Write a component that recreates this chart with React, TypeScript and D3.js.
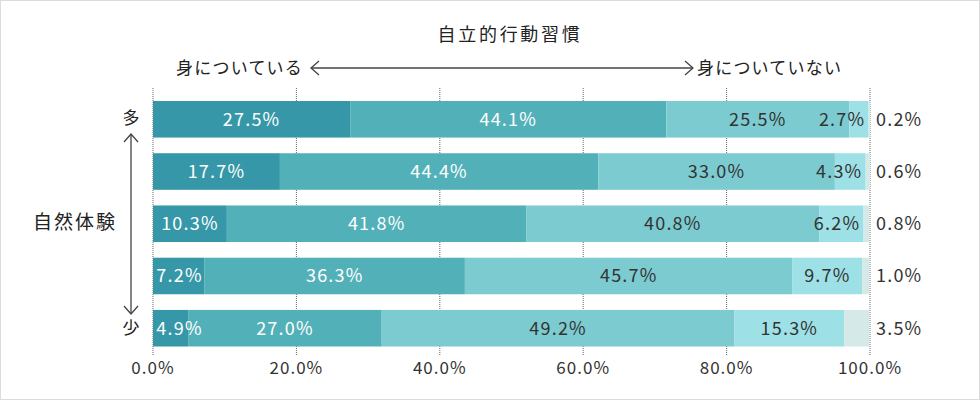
import React from "react";
import * as d3 from "d3";

const rows = ["r1", "r2", "r3", "r4", "r5"];
const seg1 = [27.5, 17.7, 10.3, 7.2, 4.9];
const seg2 = [44.1, 44.4, 41.8, 36.3, 27.0];
const seg3 = [25.5, 33.0, 40.8, 45.7, 49.2];
const seg4 = [2.7, 4.3, 6.2, 9.7, 15.3];
const seg5 = [0.2, 0.6, 0.8, 1.0, 3.5];
const ticks = [0, 20, 40, 60, 80, 100];
const title = "自立的行動習慣";
const leftLabel = "身についている";
const rightLabel = "身についていない";
const yTitle = "自然体験";
const yTop = "多";
const yBottom = "少";

const colors = ["#3597a8", "#52b1b8", "#7ccbd1", "#9de1e6", "#d6e9e9"];
const labelColors = ["#ffffff", "#ffffff", "#333333", "#333333", "#333333"];
const FONT = "'Noto Sans CJK JP', 'Noto Sans', sans-serif";

export default function App() {
  const W = 980, H = 400;
  const x = d3.scaleLinear().domain([0, 100]).range([153, 870]);
  const y = d3.scaleBand().domain(rows).range([101, 346.5]).paddingInner(0.3).paddingOuter(0);
  const series = [seg1, seg2, seg3, seg4, seg5];
  const tableRows = rows.map((r, i) => {
    let acc = 0;
    return series.map((s, k) => {
      const v = s[i];
      const start = acc;
      acc += v;
      return { row: r, k, v, start, end: acc };
    });
  });
  const bh = y.bandwidth();
  const labelW = (v: number) => (v >= 10 ? 60 : 47);

  const arrowY = 68;
  const ax0 = 311, ax1 = 693;
  const vx = 131, vy0 = 134, vy1 = 314;

  return (
    <svg width={W} height={H} style={{ position: "absolute", left: 0, top: 0 }} fontFamily={FONT}>
      <rect x={0.5} y={0.5} width={W - 1} height={H - 1} fill="#fff" stroke="#dcdcdc" />
      {ticks.map((t) => (
        <line key={t} x1={x(t)} x2={x(t)} y1={88} y2={356} stroke="#666" strokeDasharray="1,1" strokeWidth={1} />
      ))}
      {tableRows.map((segs, i) => (
        <g key={rows[i]}>
          {segs.map((s) => (
            <rect key={s.k} x={x(s.start)} y={y(s.row)!} width={Math.max(0, x(s.end) - x(s.start))} height={bh} fill={colors[s.k]} />
          ))}
          {segs.map((s) => {
            const fs = 18;
            if (s.k === 4) {
              return (
                <text key={"t" + s.k} x={876} y={y(s.row)! + bh / 2} dy="0.36em" fontSize={fs} fill="#333" letterSpacing={1.2}>
                  {s.v.toFixed(1)}%
                </text>
              );
            }
            const w = labelW(s.v);
            let cx = (x(s.start) + x(s.end)) / 2;
            if (s.k === 3) {
              if (cx + w / 2 > x(s.end) - 3) cx = x(s.end) - 3 - w / 2;
            } else if (cx - w / 2 < x(s.start) + 3) {
              cx = x(s.start) + 3 + w / 2;
            }
            return (
              <text key={"t" + s.k} x={cx} y={y(s.row)! + bh / 2} dy="0.36em" fontSize={fs} fill={labelColors[s.k]} textAnchor="middle" letterSpacing={1.2}>
                {s.v.toFixed(1)}%
              </text>
            );
          })}
        </g>
      ))}
      {ticks.map((t) => (
        <text key={"x" + t} x={x(t)} y={368} dy="0.36em" fontSize={17} fill="#333" textAnchor="middle" letterSpacing={1}>
          {t.toFixed(1)}%
        </text>
      ))}
      <text x={510} y={35} dy="0.36em" fontSize={18} fill="#222" textAnchor="middle" letterSpacing={2.7}>{title}</text>
      <text x={303} y={arrowY} dy="0.36em" fontSize={17} fill="#222" textAnchor="end" letterSpacing={1.2}>{leftLabel}</text>
      <text x={697} y={arrowY} dy="0.36em" fontSize={17} fill="#222" textAnchor="start" letterSpacing={1.2}>{rightLabel}</text>
      <g stroke="#444" strokeWidth={1.3} fill="none">
        <line x1={ax0} x2={ax1} y1={arrowY} y2={arrowY} />
        <polyline points={`${ax0 + 8},${arrowY - 7} ${ax0},${arrowY} ${ax0 + 8},${arrowY + 7}`} />
        <polyline points={`${ax1 - 8},${arrowY - 7} ${ax1},${arrowY} ${ax1 - 8},${arrowY + 7}`} />
        <line x1={vx} x2={vx} y1={vy0} y2={vy1} />
        <polyline points={`${vx - 7},${vy0 + 8} ${vx},${vy0} ${vx + 7},${vy0 + 8}`} />
        <polyline points={`${vx - 7},${vy1 - 8} ${vx},${vy1} ${vx + 7},${vy1 - 8}`} />
      </g>
      <text x={131} y={118} dy="0.36em" fontSize={17} fill="#222" textAnchor="middle">{yTop}</text>
      <text x={131} y={328} dy="0.36em" fontSize={17} fill="#222" textAnchor="middle">{yBottom}</text>
      <text x={75} y={222} dy="0.36em" fontSize={19} fill="#222" textAnchor="middle" letterSpacing={2}>{yTitle}</text>
    </svg>
  );
}
